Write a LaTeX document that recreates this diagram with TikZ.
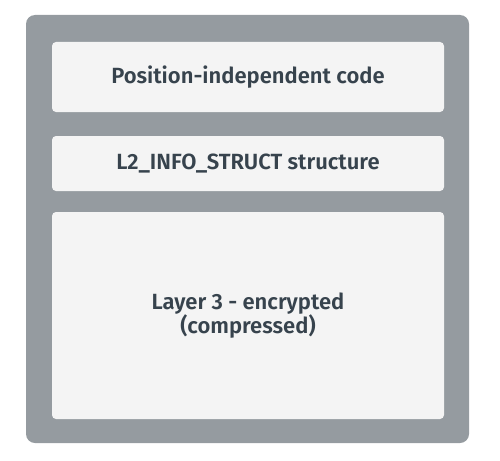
\documentclass[tikz,border=0pt]{standalone}
\usepackage{fontspec}
\setmainfont{Fira Sans}[BoldFont={* SemiBold}]
\definecolor{framegray}{RGB}{149, 155, 160}
\definecolor{boxfill}{RGB}{244, 244, 244}
\definecolor{inkslate}{RGB}{55, 67, 77}
\usepackage{tikz}
\usetikzlibrary{positioning}

\begin{document}
\begin{tikzpicture}[x=1pt, y=-1pt,
    layerbox/.style={fill=boxfill, rounded corners=4pt, minimum width=392pt,
      inner sep=0pt, align=center, text=inkslate, font=\fontsize{22}{22}\selectfont\bfseries}]
  \useasboundingbox (0, 0) rectangle (500, 460);

  % Outer frame
  \node[fill=framegray, rounded corners=9pt, minimum width=443pt, minimum height=428pt,
    inner sep=0pt] (frame) at (247.5, 229) {};

  % Layers
  \node[layerbox, minimum height=70pt] (pic) at (248, 77) {Position-independent code};
  \node[layerbox, minimum height=55pt] (info) at (248, 163.5) {L2\_INFO\_STRUCT structure};
  \node[layerbox, minimum height=207pt] (layer3) at (248, 315.5) {Layer 3 - encrypted\\(compressed)};
\end{tikzpicture}
\end{document}
